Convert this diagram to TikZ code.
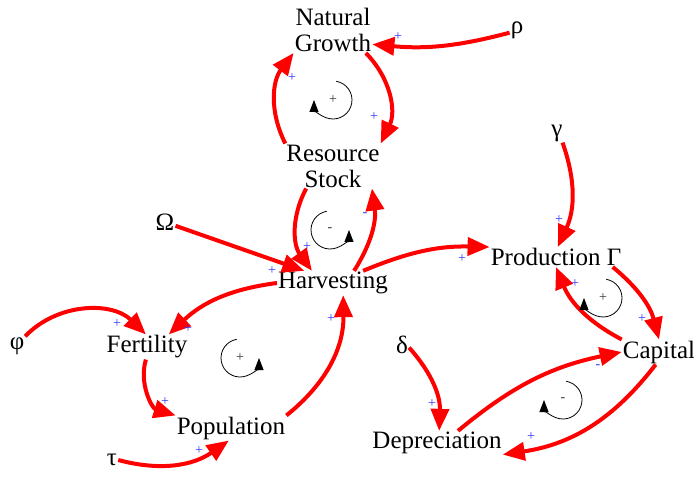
\documentclass[tikz,border=0pt]{standalone}
\usepackage{fontspec}
\setmainfont{Liberation Serif}
\usetikzlibrary{arrows.meta}

\tikzset{
  var/.style={inner sep=1pt, font=\fontsize{25}{26}\selectfont, align=center},
  link/.style={draw, color=red, line width=4pt, -{Triangle[length=22pt,width=18pt]}},
  sign/.style={text=blue!80, font=\fontsize{14}{14}\selectfont, inner sep=0pt},
  loopsign/.style={text=black!80, font=\fontsize{14}{14}\selectfont, inner sep=0pt},
  loopmark/.style={draw=black, line width=0.8pt, -{Triangle[length=12pt,width=9pt]}},
}

\begin{document}
\begin{tikzpicture}[x=1pt, y=1pt]
    \useasboundingbox (0,0) rectangle (694,480);

    % variables
    \node[var] (ng) at (333,450) {Natural\\Growth};
    \node[var] (rho) at (517,450) {ρ};
    \node[var] (rs) at (333,314) {Resource\\Stock};
    \node[var] (omega) at (165,258) {Ω};
    \node[var] (harv) at (333,197) {Harvesting};
    \node[var] (prod) at (556,223) {Production Γ};
    \node[var] (gam) at (557,347) {γ};
    \node[var] (phi) at (17,134) {φ};
    \node[var] (fert) at (147,133) {Fertility};
    \node[var] (cap) at (659,128) {Capital};
    \node[var] (delta) at (402,135) {δ};
    \node[var] (pop) at (231,52) {Population};
    \node[var] (tau) at (112,20) {τ};
    \node[var] (dep) at (437,37) {Depreciation};

    % causal links
    \path[every edge/.style={link}]
        (rho.200) edge[bend left=10] (ng.-20)
        (ng.-35) edge[bend left=35] (rs.north east)
        (rs.north west) edge[bend left=32] (ng.south west)
        (rs.-140) edge[bend right=32] (harv.150)
        (harv.30) edge[bend right=20] (rs.-30)
        (omega.-20) edge (harv.157)
        (harv.22) edge[bend left=12] (prod.north west)
        (gam.-60) edge[bend left=22] (prod.80)
        (prod.-10) edge[bend left=18] (cap.north)
        (cap.north west) edge[bend left=20] (prod.south)
        (delta.-20) edge[bend left=22] (dep.80)
        (dep.30) edge[bend left=14] (cap.west)
        (cap.-105) edge[bend left=22] (dep.-10)
        (harv.west) edge[bend right=18] (fert.30)
        (phi.50) edge[bend left=45] (fert.95)
        (fert.-95) edge[bend right=45] (pop.north west)
        (pop.north east) edge[bend right=26] (harv.-50)
        (tau.east) edge[bend right=25] (pop.-100)
        ;

    % polarities
    \node[sign] (s1) at (398,443) {+};
    \node[sign] (s2) at (374,363) {+};
    \node[sign] (s3) at (292,402) {+};
    \node[sign] (s4) at (307,233) {+};
    \node[sign] (s5) at (365,265) {-};
    \node[sign] (s6) at (272,209) {+};
    \node[sign] (s7) at (462,221) {+};
    \node[sign] (s8) at (559,260) {+};
    \node[sign] (s9) at (642,161) {+};
    \node[sign] (s10) at (575,196) {+};
    \node[sign] (s11) at (432,76) {+};
    \node[sign] (s12) at (598,113) {-};
    \node[sign] (s13) at (531,43) {+};
    \node[sign] (s14) at (188,151) {+};
    \node[sign] (s15) at (117,156) {+};
    \node[sign] (s16) at (165,78) {+};
    \node[sign] (s17) at (331,161) {+};
    \node[sign] (s18) at (199,29) {+};

    % loop markers
    \node[loopsign] (l1) at (333,380) {+};
    \draw[loopmark] ([shift={(80:19)}]l1.center) arc[start angle=80, end angle=-180, radius=19];
    \node[loopsign] (l2) at (330,250) {-};
    \draw[loopmark] ([shift={(100:19)}]l2.center) arc[start angle=100, end angle=360, radius=19];
    \node[loopsign] (l3) at (240,122) {+};
    \draw[loopmark] ([shift={(100:19)}]l3.center) arc[start angle=100, end angle=360, radius=19];
    \node[loopsign] (l4) at (603,182) {+};
    \draw[loopmark] ([shift={(80:19)}]l4.center) arc[start angle=80, end angle=-180, radius=19];
    \node[loopsign] (l5) at (563,80) {-};
    \draw[loopmark] ([shift={(80:19)}]l5.center) arc[start angle=80, end angle=-180, radius=19];
\end{tikzpicture}
\end{document}
